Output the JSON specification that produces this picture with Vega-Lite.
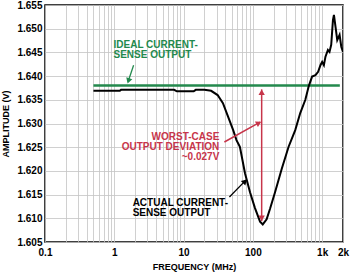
{
  "$schema": "https://vega.github.io/schema/vega-lite/v6.json",
  "width": 298,
  "height": 237,
  "autosize": {"type": "none"},
  "padding": {"left": 45, "top": 5, "right": 7, "bottom": 35},
  "background": "white",
  "config": {
    "view": {"stroke": "black", "strokeWidth": 1.5},
    "font": "Liberation Sans",
    "axis": {
      "labelFont": "Liberation Sans",
      "labelFontWeight": "bold",
      "labelFontSize": 10,
      "labelColor": "black",
      "titleFont": "Liberation Sans",
      "titleFontWeight": "bold",
      "titleFontSize": 9,
      "titleColor": "black",
      "gridColor": "#c4c4c4",
      "gridWidth": 0.8,
      "domain": false,
      "ticks": false
    }
  },
  "datasets": {
    "ideal": [{"f": 0.5, "v": 1.638, "s": "ideal"}, {"f": 1800, "v": 1.638, "s": "ideal"}],
    "curve": [
      {"f": 0.5, "v": 1.6369}, {"f": 1.2, "v": 1.6369}, {"f": 1.25, "v": 1.6371},
      {"f": 7.3, "v": 1.6371}, {"f": 8, "v": 1.6368}, {"f": 14, "v": 1.6368},
      {"f": 15, "v": 1.6371}, {"f": 20, "v": 1.6371}, {"f": 25, "v": 1.6369},
      {"f": 31, "v": 1.636}, {"f": 37, "v": 1.6343}, {"f": 44, "v": 1.6314},
      {"f": 52, "v": 1.6286}, {"f": 58, "v": 1.6265}, {"f": 65, "v": 1.6251},
      {"f": 77, "v": 1.6195}, {"f": 91, "v": 1.6155}, {"f": 107, "v": 1.6122},
      {"f": 127, "v": 1.6093}, {"f": 139, "v": 1.6087}, {"f": 158, "v": 1.6098},
      {"f": 177, "v": 1.612}, {"f": 209, "v": 1.6155}, {"f": 262, "v": 1.6205},
      {"f": 328, "v": 1.6251}, {"f": 409, "v": 1.6286}, {"f": 483, "v": 1.6322},
      {"f": 572, "v": 1.635}, {"f": 641, "v": 1.6379}, {"f": 716, "v": 1.6399},
      {"f": 800, "v": 1.6402}, {"f": 875, "v": 1.6409}, {"f": 945, "v": 1.6423},
      {"f": 1000, "v": 1.643}, {"f": 1059, "v": 1.6423}, {"f": 1117, "v": 1.6441},
      {"f": 1211, "v": 1.6455}, {"f": 1277, "v": 1.6451}, {"f": 1352, "v": 1.6466},
      {"f": 1432, "v": 1.6518}, {"f": 1480, "v": 1.6529}, {"f": 1560, "v": 1.6504},
      {"f": 1652, "v": 1.6476}, {"f": 1785, "v": 1.6487}, {"f": 1889, "v": 1.6462},
      {"f": 2000, "v": 1.6451}
    ],
    "redSegs": [
      {"f": 134, "v": 1.6094, "s": "vert"}, {"f": 134, "v": 1.6372, "s": "vert"},
      {"f": 38.8, "v": 1.6261, "s": "diag"}, {"f": 127, "v": 1.6303, "s": "diag"}
    ],
    "blackSegs": [
      {"f": 45.9, "v": 1.6145, "s": "a"}, {"f": 80, "v": 1.6181, "s": "a"}
    ],
    "greenSegs": [
      {"f": 1.9, "v": 1.6423, "s": "g"}, {"f": 1.58, "v": 1.6388, "s": "g"}
    ],
    "heads": [
      {"f": 134, "v": 1.6366, "a": 0, "c": "#c7354a"},
      {"f": 134, "v": 1.61, "a": 180, "c": "#c7354a"},
      {"f": 122, "v": 1.6301, "a": 62, "c": "#c7354a"},
      {"f": 77, "v": 1.6178, "a": 45, "c": "black"},
      {"f": 1.6, "v": 1.639, "a": 198, "c": "#23894d"}
    ],
    "leftText": [
      {"f": 0.975, "v": 1.6466, "t": "IDEAL CURRENT-", "c": "#23894d"},
      {"f": 0.975, "v": 1.6444, "t": "SENSE OUTPUT", "c": "#23894d"},
      {"f": 1.84, "v": 1.6132, "t": "ACTUAL CURRENT-", "c": "black"},
      {"f": 1.84, "v": 1.6111, "t": "SENSE OUTPUT", "c": "black"}
    ],
    "rightText": [
      {"f": 32.8, "v": 1.6271, "t": "WORST-CASE", "c": "#c7354a"},
      {"f": 32.8, "v": 1.625, "t": "OUTPUT DEVIATION", "c": "#c7354a"},
      {"f": 32.8, "v": 1.6229, "t": "~0.027V", "c": "#c7354a"}
    ]
  },
  "encoding": {
    "x": {
      "field": "f", "type": "quantitative",
      "scale": {"type": "log", "domain": [0.1, 2000], "nice": false},
      "axis": {
        "title": "FREQUENCY (MHz)",
        "values": [0.1, 0.2, 0.3, 0.4, 0.5, 0.6, 0.7, 0.8, 0.9, 1, 2, 3, 4, 5, 6, 7, 8, 9, 10, 20, 30, 40, 50, 60, 70, 80, 90, 100, 200, 300, 400, 500, 600, 700, 800, 900, 1000, 2000],
        "labelExpr": "datum.value==0.1?'0.1':datum.value==1?'1':datum.value==10?'10':datum.value==100?'100':datum.value==1000?'1k':datum.value==2000?'2k':''",
        "labelOverlap": false,
        "labelBound": false,
        "labelFlush": false,
        "labelPadding": 5,
        "titlePadding": 5
      }
    },
    "y": {
      "field": "v", "type": "quantitative",
      "scale": {"domain": [1.605, 1.655], "nice": false, "zero": false},
      "axis": {
        "title": "AMPLITUDE (V)",
        "values": [1.605, 1.61, 1.615, 1.62, 1.625, 1.63, 1.635, 1.64, 1.645, 1.65, 1.655],
        "format": ".3f",
        "labelOverlap": false,
        "labelPadding": 3,
        "titlePadding": 6
      }
    }
  },
  "layer": [
    {
      "data": {"name": "ideal"},
      "mark": {"type": "line", "color": "#23894d", "strokeWidth": 2.5, "clip": true},
      "encoding": {"detail": {"field": "s"}}
    },
    {
      "data": {"name": "curve"},
      "mark": {"type": "line", "color": "black", "strokeWidth": 2, "clip": true},
      "encoding": {}
    },
    {
      "data": {"name": "redSegs"},
      "mark": {"type": "line", "color": "#c7354a", "strokeWidth": 1.5},
      "encoding": {"detail": {"field": "s"}}
    },
    {
      "data": {"name": "blackSegs"},
      "mark": {"type": "line", "color": "black", "strokeWidth": 1.3},
      "encoding": {"detail": {"field": "s"}}
    },
    {
      "data": {"name": "greenSegs"},
      "mark": {"type": "line", "color": "#23894d", "strokeWidth": 1.3},
      "encoding": {"detail": {"field": "s"}}
    },
    {
      "data": {"name": "heads"},
      "mark": {"type": "point", "shape": "triangle-up", "filled": true, "size": 40, "opacity": 1},
      "encoding": {
        "angle": {"field": "a", "type": "quantitative", "scale": null},
        "color": {"field": "c", "type": "nominal", "scale": null}
      }
    },
    {
      "data": {"name": "leftText"},
      "mark": {"type": "text", "align": "left", "baseline": "middle", "fontSize": 10, "fontWeight": "bold", "font": "Liberation Sans"},
      "encoding": {
        "text": {"field": "t"},
        "color": {"field": "c", "type": "nominal", "scale": null}
      }
    },
    {
      "data": {"name": "rightText"},
      "mark": {"type": "text", "align": "right", "baseline": "middle", "fontSize": 10, "fontWeight": "bold", "font": "Liberation Sans"},
      "encoding": {
        "text": {"field": "t"},
        "color": {"field": "c", "type": "nominal", "scale": null}
      }
    }
  ]
}
